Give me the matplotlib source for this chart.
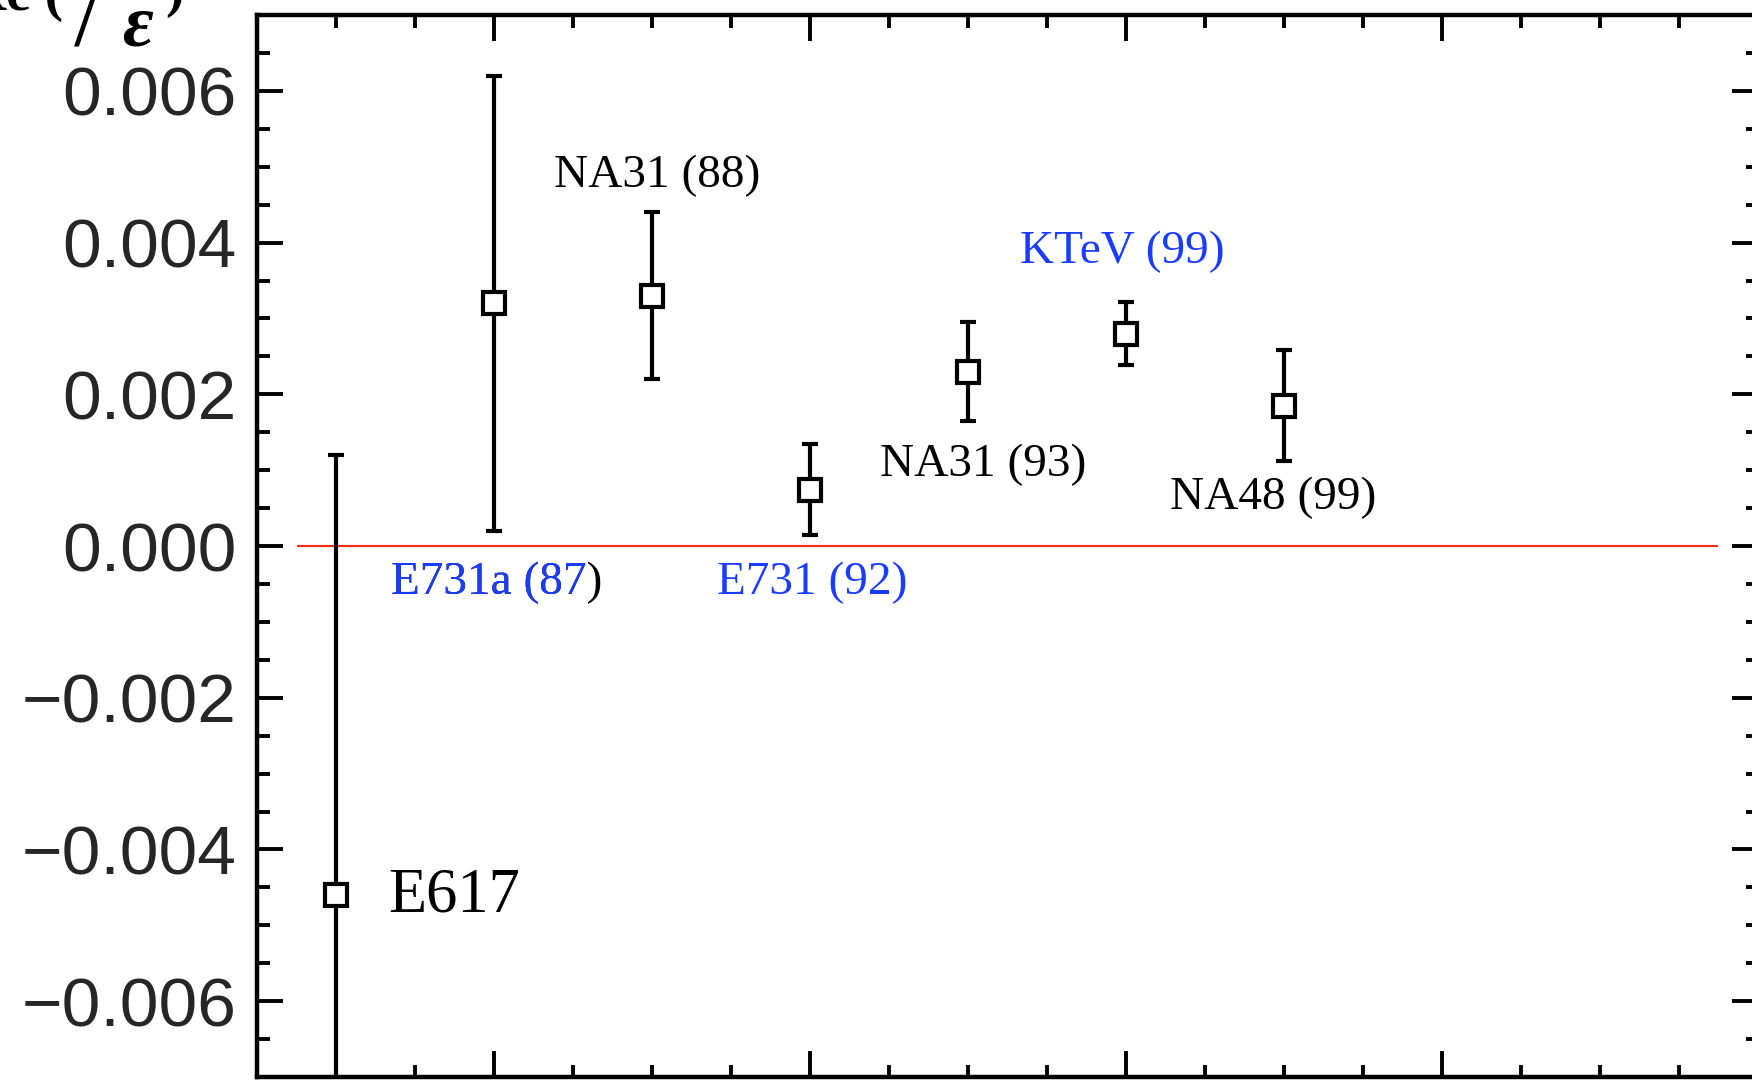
import matplotlib
matplotlib.use("Agg")
import matplotlib.pyplot as plt
from matplotlib.ticker import MultipleLocator, FuncFormatter

# measurements of Re(eps'/eps), in chronological order along x
experiments = ["E617", "E731a (87)", "NA31 (88)", "E731 (92)", "NA31 (93)", "KTeV (99)", "NA48 (99)"]
x_pos = [0, 1, 2, 3, 4, 5, 6]
values = [-0.0046, 0.0032, 0.0033, 0.00074, 0.0023, 0.0028, 0.00185]
errors = [0.0058, 0.0030, 0.0011, 0.0006, 0.00065, 0.00042, 0.00073]

# where each label goes (data coords) and its colour
label_x = [0.33, 0.35, 2.03, 2.41, 3.44, 4.33, 5.28]
label_y = [-0.00462, -0.00049, 0.00488, -0.00049, 0.00107, 0.00388, 0.00063]
label_ha = ["left", "left", "center", "left", "left", "left", "left"]
label_color = ["black", "#1a3cff", "black", "#1a3cff", "black", "#1a3cff", "black"]
label_size = [45, 34, 34, 34, 34, 34, 34]

zero_span = (-0.25, 8.75)

W, H = 1752, 1080
fig = plt.figure(figsize=(W / 100, H / 100), dpi=100)
ax = fig.add_axes([257 / W, 3 / H, (1758 - 257) / W, (1077 - 15) / H])

ax.hlines(0, zero_span[0], zero_span[1], color="#ff2a10", lw=1.5, zorder=1)

ax.errorbar(x_pos, values, yerr=errors, fmt="s", mfc="white", mec="black",
            ms=16.5, mew=3, ecolor="black", elinewidth=3, capsize=6,
            capthick=3, zorder=3)

serif = "Liberation Serif"
for i, name in enumerate(experiments):
    if name == "E731a (87)":
        # whole label in black, then everything but the closing bracket in blue on top
        ax.text(label_x[i], label_y[i], name, color="black", fontsize=label_size[i],
                family=serif, ha="left", va="center")
        ax.text(label_x[i], label_y[i], name[:-1], color=label_color[i],
                fontsize=label_size[i], family=serif, ha="left", va="center",
                bbox=dict(fc="none", ec="none", pad=0))
    else:
        ax.text(label_x[i], label_y[i], name, color=label_color[i],
                fontsize=label_size[i], family=serif, ha=label_ha[i], va="center")

ax.set_xlim(-0.5, 9)
ax.set_ylim(-0.007, 0.007)
ax.set_xticks([1, 3, 5, 7, 9])
ax.xaxis.set_minor_locator(MultipleLocator(0.5))
ax.yaxis.set_major_locator(MultipleLocator(0.002))
ax.yaxis.set_minor_locator(MultipleLocator(0.0005))
ax.yaxis.set_major_formatter(FuncFormatter(lambda v, p: f"{v:.3f}".replace("-", "\u2212")))

for s in ax.spines.values():
    s.set_linewidth(3.2)
ax.tick_params(which="both", direction="in", top=True, right=True,
               labelbottom=False, width=2.8, colors="black")
ax.tick_params(which="major", length=19)
ax.tick_params(which="minor", length=9)
ax.tick_params(axis="y", labelsize=50, pad=15, labelcolor="#262626")
for lab in ax.get_yticklabels():
    lab.set_family("Liberation Sans")

# y axis title in the top-left corner, mostly running off the top edge
top = lambda px: 1 - px / H
fig.text(63 / W, top(10), "Re (", fontsize=40, weight="bold", family=serif,
         ha="right", va="baseline")
fig.text(88 / W, top(44), "/", fontsize=72, family=serif, ha="center", va="baseline")
fig.text(122 / W, top(46), "\u03b5", fontsize=54, weight="bold", style="italic",
         family=serif, ha="left", va="baseline")
fig.text(165 / W, top(6), ")", fontsize=40, weight="bold", family=serif,
         ha="left", va="baseline")

fig.savefig("out.png", dpi=100)
